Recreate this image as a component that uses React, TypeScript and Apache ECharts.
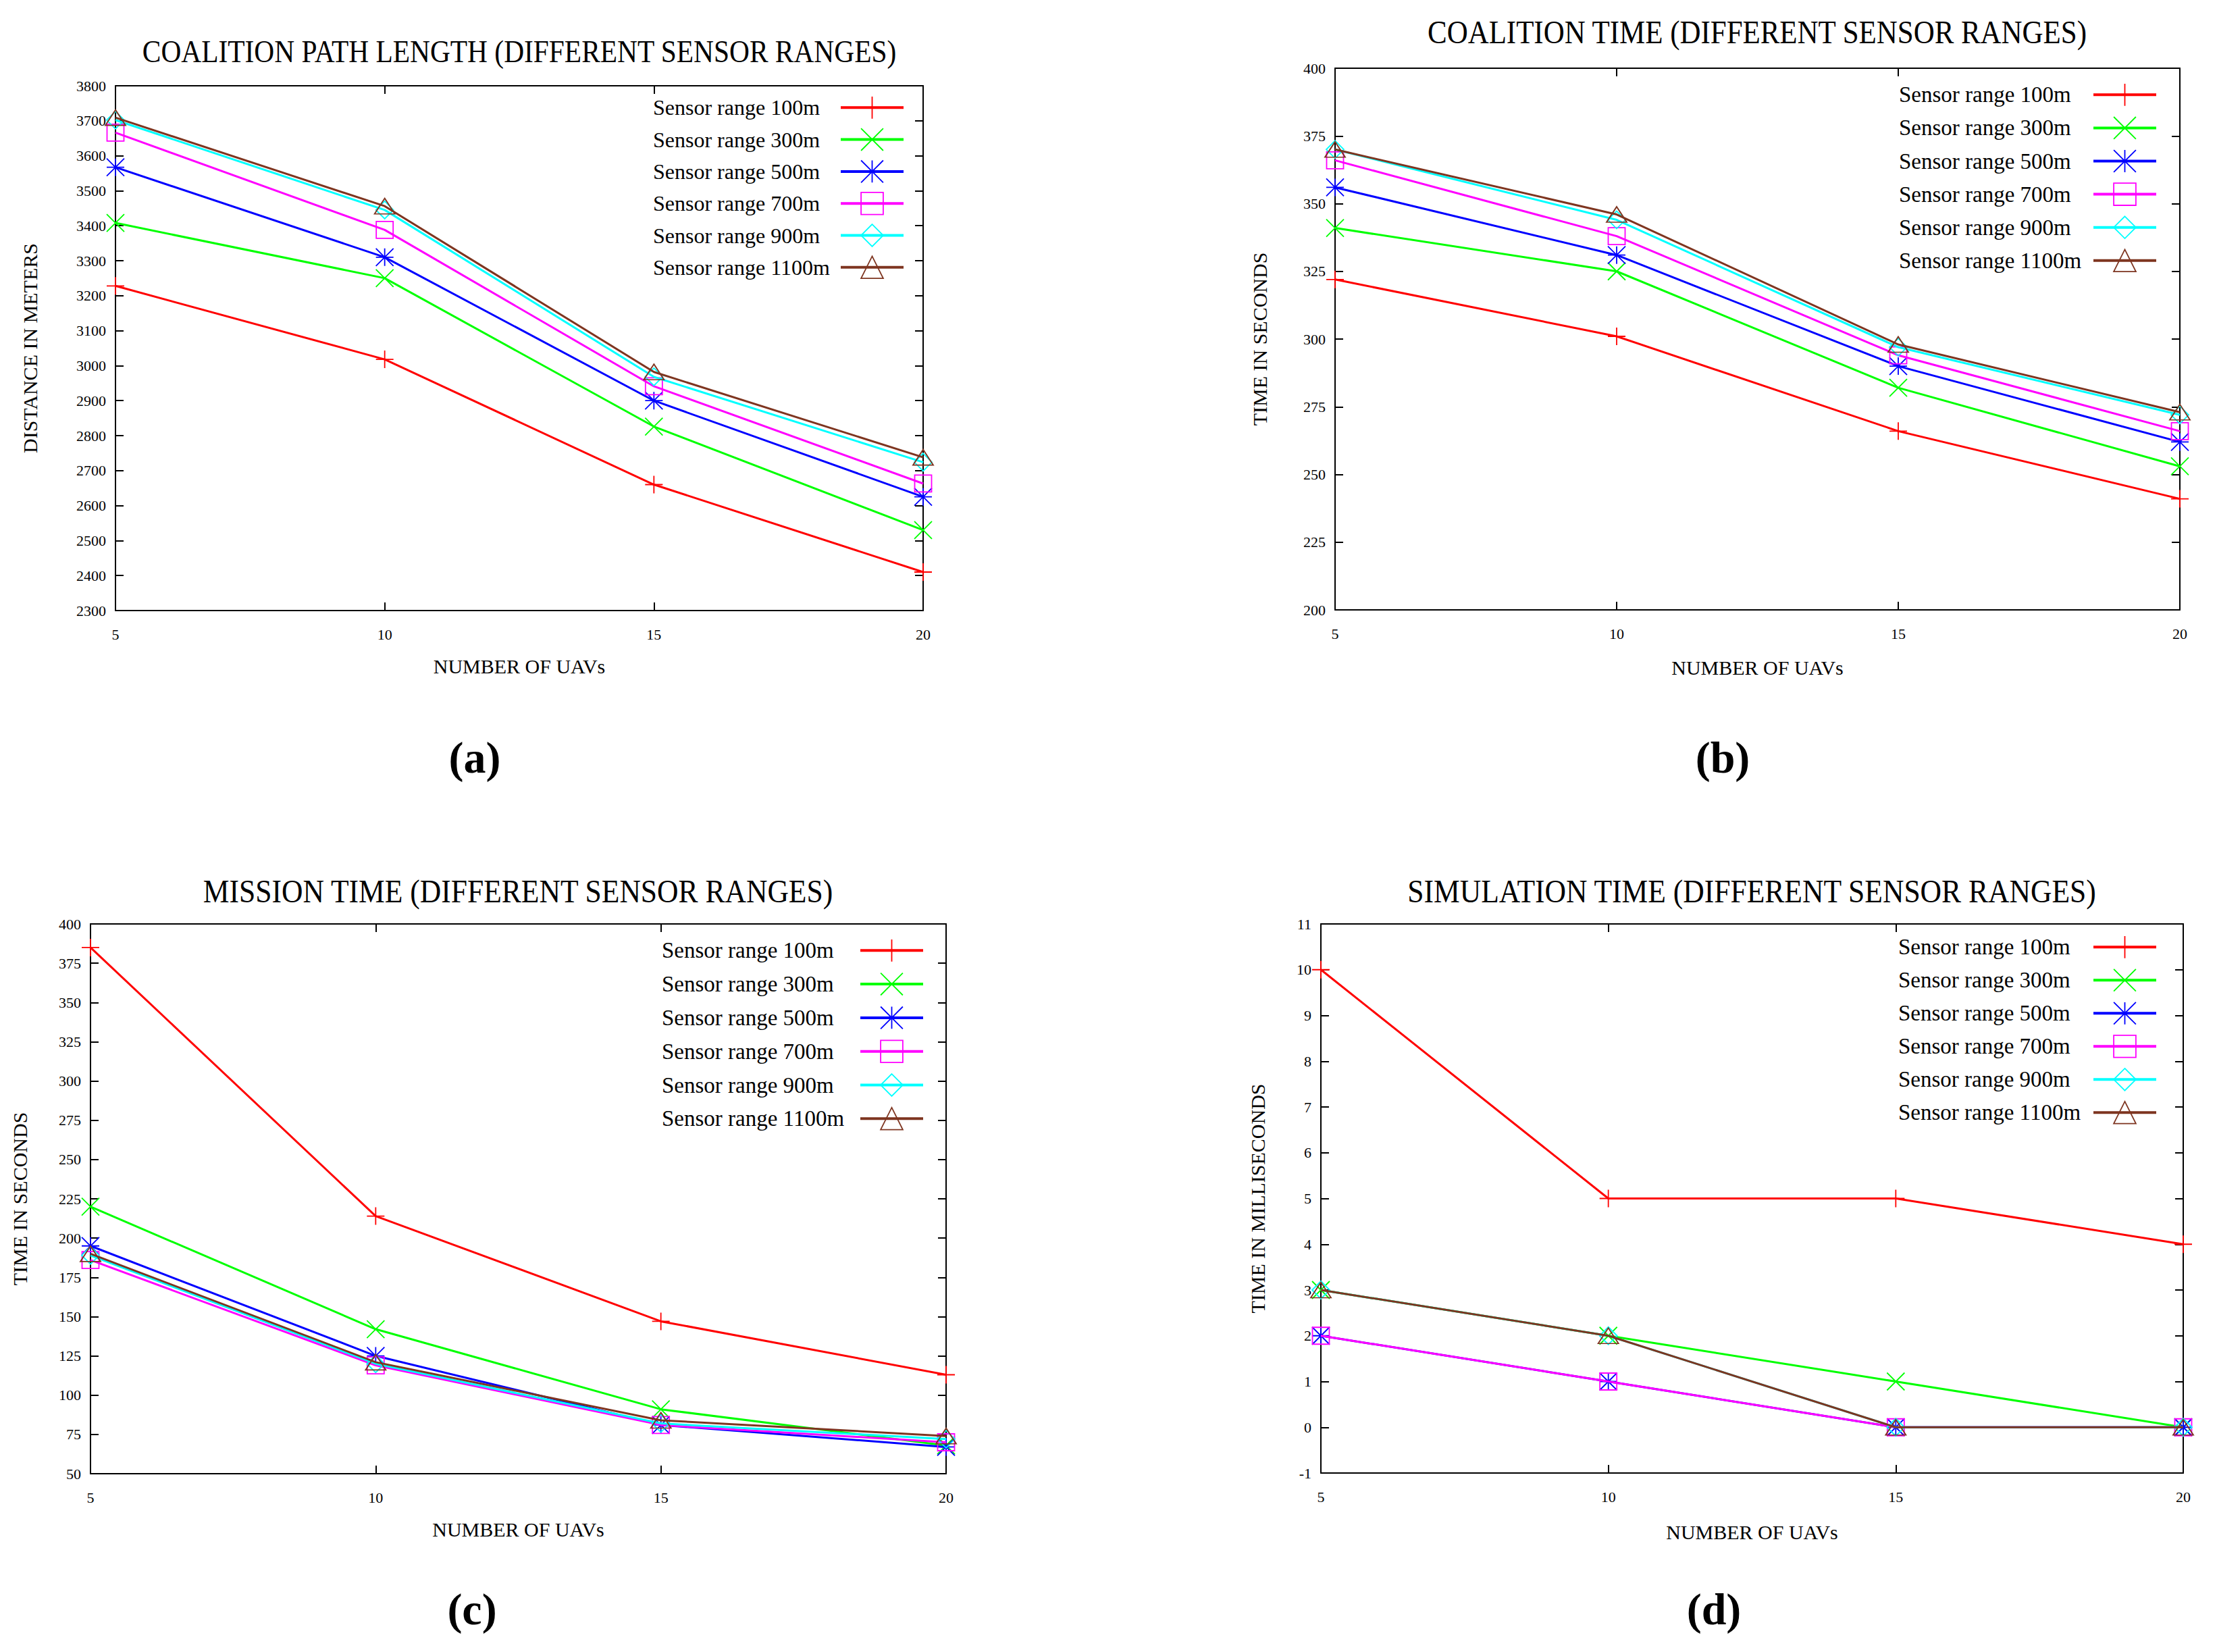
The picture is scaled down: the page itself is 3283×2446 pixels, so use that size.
import React, { useEffect, useRef } from 'react';
import * as echarts from 'echarts';

// ---------------- data ----------------
const uavCounts = [5, 10, 15, 20];
const sensorRanges = [
  'Sensor range 100m',
  'Sensor range 300m',
  'Sensor range 500m',
  'Sensor range 700m',
  'Sensor range 900m',
  'Sensor range 1100m',
];

// one row per sensor range, one value per UAV count
const pathLengthMeters = [
  [3228, 3018, 2660, 2410],
  [3408, 3250, 2826, 2530],
  [3567, 3310, 2900, 2625],
  [3666, 3388, 2941, 2663],
  [3702, 3445, 2968, 2724],
  [3709, 3456, 2982, 2738],
];
const coalitionTimeSeconds = [
  [322, 301, 266, 241],
  [341, 325, 282, 253],
  [356, 331, 290, 262],
  [366, 338, 294, 266],
  [370, 344, 297, 272],
  [370, 346, 298, 273],
];
const missionTimeSeconds = [
  [385, 214, 147, 113],
  [220, 142, 91, 68],
  [195, 125, 81, 67],
  [186, 119, 81, 70],
  [189, 120, 82, 72],
  [190, 121, 84, 74],
];
const simulationTimeMs = [
  [10, 5, 5, 4],
  [3, 2, 1, 0],
  [2, 1, 0, 0],
  [2, 1, 0, 0],
  [3, 2, 0, 0],
  [3, 2, 0, 0],
];

// y axis ranges [min, max, interval]
const pathLengthTicks = [2300, 3800, 100];
const coalitionTimeTicks = [200, 400, 25];
const missionTimeTicks = [50, 400, 25];
const simulationTimeTicks = [-1, 11, 1];
const uavTicks = [5, 20, 5];

const chartTitles = [
  'COALITION PATH LENGTH (DIFFERENT SENSOR RANGES)',
  'COALITION TIME (DIFFERENT SENSOR RANGES)',
  'MISSION TIME (DIFFERENT SENSOR RANGES)',
  'SIMULATION TIME (DIFFERENT SENSOR RANGES)',
];
const yAxisNames = ['DISTANCE IN METERS', 'TIME IN SECONDS', 'TIME IN SECONDS', 'TIME IN MILLISECONDS'];
const xAxisName = 'NUMBER OF UAVs';
const panelTags = ['(a)', '(b)', '(c)', '(d)'];

// ---------------- styles ----------------
const FONT = '"Liberation Serif", "Times New Roman", serif';
const colors = ['#ff0000', '#00ff00', '#0000ff', '#ff00ff', '#00ffff', '#7e3520'];
const symbols = [
  'path://M5,0L5,10M0,5L10,5',
  'path://M0,0L10,10M10,0L0,10',
  'path://M5,0L5,10M0,5L10,5M0,0L10,10M10,0L0,10',
  'path://M0,0L10,0L10,10L0,10Z',
  'path://M5,0L10,5L5,10L0,5Z',
  'path://M5,0L10,7.7L0,7.7Z',
];
const symbolSizes: any[] = [26, 26, 26, 25, 26, [30, 23]];

const layouts = [
  {
    grid: { left: 171, top: 127, width: 1196, height: 777 },
    titleX: 769, titleY: 76, titleSize: 46,
    legend: { left: 967, top: 142, gap: 12.7, textWidth: 273, fontSize: 32 },
    yNameGap: 112, xNameGap: 67, tagX: 703, tagY: 1121,
  },
  {
    grid: { left: 1977, top: 101, width: 1251, height: 802 },
    titleX: 2602, titleY: 48, titleSize: 47.7,
    legend: { left: 2812, top: 123, gap: 14.5, textWidth: 283, fontSize: 33 },
    yNameGap: 97, xNameGap: 70, tagX: 2551, tagY: 1121,
  },
  {
    grid: { left: 134, top: 1368, width: 1267, height: 814 },
    titleX: 767, titleY: 1320, titleSize: 48.4,
    legend: { left: 980, top: 1390, gap: 15.2, textWidth: 289, fontSize: 33 },
    yNameGap: 90, xNameGap: 67, tagX: 699, tagY: 2382,
  },
  {
    grid: { left: 1956, top: 1368, width: 1277, height: 813 },
    titleX: 2594, titleY: 1320, titleSize: 48.4,
    legend: { left: 2811, top: 1385, gap: 14.4, textWidth: 284, fontSize: 33 },
    yNameGap: 79, xNameGap: 72, tagX: 2538, tagY: 2382,
  },
];

const panelValues = [pathLengthMeters, coalitionTimeSeconds, missionTimeSeconds, simulationTimeMs];
const panelTicks = [pathLengthTicks, coalitionTimeTicks, missionTimeTicks, simulationTimeTicks];

function buildOption() {
  const grid: any[] = [];
  const xAxis: any[] = [];
  const yAxis: any[] = [];
  const series: any[] = [];
  const legend: any[] = [];
  const graphic: any[] = [];

  const axisLine = { show: true, onZero: false, lineStyle: { color: '#000', width: 2 } };
  const axisTick = { show: true, inside: true, length: 12, lineStyle: { color: '#000', width: 2 } };
  const labelStyle = { fontFamily: FONT, fontSize: 22, color: '#000', formatter: (v: number) => String(v) };

  layouts.forEach((lay, p) => {
    grid.push({ ...lay.grid, containLabel: false });
    const [ymin, ymax, yint] = panelTicks[p];
    const [xmin, xmax, xint] = uavTicks;

    xAxis.push({
      type: 'value', gridIndex: p, position: 'bottom', min: xmin, max: xmax, interval: xint,
      axisLine, axisTick, splitLine: { show: false },
      axisLabel: { ...labelStyle, margin: 24 },
      name: xAxisName, nameLocation: 'middle', nameGap: lay.xNameGap,
      nameTextStyle: { fontFamily: FONT, fontSize: 30, color: '#000' },
    });
    xAxis.push({
      type: 'value', gridIndex: p, position: 'top', min: xmin, max: xmax, interval: xint,
      axisLine, axisTick, splitLine: { show: false }, axisLabel: { show: false },
    });
    yAxis.push({
      type: 'value', gridIndex: p, position: 'left', min: ymin, max: ymax, interval: yint,
      axisLine, axisTick, splitLine: { show: false },
      axisLabel: { ...labelStyle, margin: 14 },
      name: yAxisNames[p], nameLocation: 'middle', nameGap: lay.yNameGap,
      nameTextStyle: { fontFamily: FONT, fontSize: 30, color: '#000' },
    });
    yAxis.push({
      type: 'value', gridIndex: p, position: 'right', min: ymin, max: ymax, interval: yint,
      axisLine, axisTick, splitLine: { show: false }, axisLabel: { show: false },
    });

    panelValues[p].forEach((vals, s) => {
      series.push({
        type: 'line',
        name: sensorRanges[s],
        xAxisIndex: p * 2,
        yAxisIndex: p * 2,
        data: uavCounts.map((u, i) => [u, vals[i]]),
        symbol: symbols[s],
        symbolSize: symbolSizes[s],
        symbolKeepAspect: false,
        showAllSymbol: true,
        clip: false,
        lineStyle: { color: colors[s], width: 3 },
        itemStyle: { color: 'rgba(0,0,0,0)', borderColor: colors[s], borderWidth: 1.8 },
        emphasis: { disabled: true },
        z: 2 + s,
      });
    });

    legend.push({
      orient: 'vertical',
      left: lay.legend.left,
      top: lay.legend.top,
      padding: 0,
      itemWidth: 93,
      itemHeight: 41,
      itemGap: lay.legend.gap,
      align: 'right',
      selectedMode: false,
      data: sensorRanges,
      formatter: '{t|{name}}',
      lineStyle: { width: 4 },
      itemStyle: { borderWidth: 1.8 },
      textStyle: {
        fontFamily: FONT, fontSize: lay.legend.fontSize, color: '#000',
        rich: {
          t: { width: lay.legend.textWidth, align: 'left', fontFamily: FONT, fontSize: lay.legend.fontSize, color: '#000' },
        },
      },
    });

    graphic.push({
      type: 'text', x: lay.titleX, y: lay.titleY, scaleX: 0.9,
      style: {
        text: chartTitles[p], fontFamily: FONT, fontSize: lay.titleSize, fill: '#000',
        align: 'center', verticalAlign: 'middle', textAlign: 'center', textVerticalAlign: 'middle',
      },
    });
    graphic.push({
      type: 'text', x: lay.tagX, y: lay.tagY,
      style: {
        text: panelTags[p], fontFamily: FONT, fontSize: 66, fontWeight: 'bold', fill: '#000',
        align: 'center', verticalAlign: 'middle', textAlign: 'center', textVerticalAlign: 'middle',
      },
    });
  });

  return {
    animation: false,
    backgroundColor: '#ffffff',
    grid, xAxis, yAxis, series, legend, graphic,
  };
}

export default function App() {
  const ref = useRef<HTMLDivElement>(null);
  useEffect(() => {
    if (!ref.current) return;
    const chart = echarts.init(ref.current, undefined, { renderer: 'svg' });
    chart.setOption(buildOption());
    return () => chart.dispose();
  }, []);
  return (
    <div
      ref={ref}
      style={{ position: 'absolute', left: 0, top: 0, width: 3283, height: 2446, background: '#fff' }}
    />
  );
}
